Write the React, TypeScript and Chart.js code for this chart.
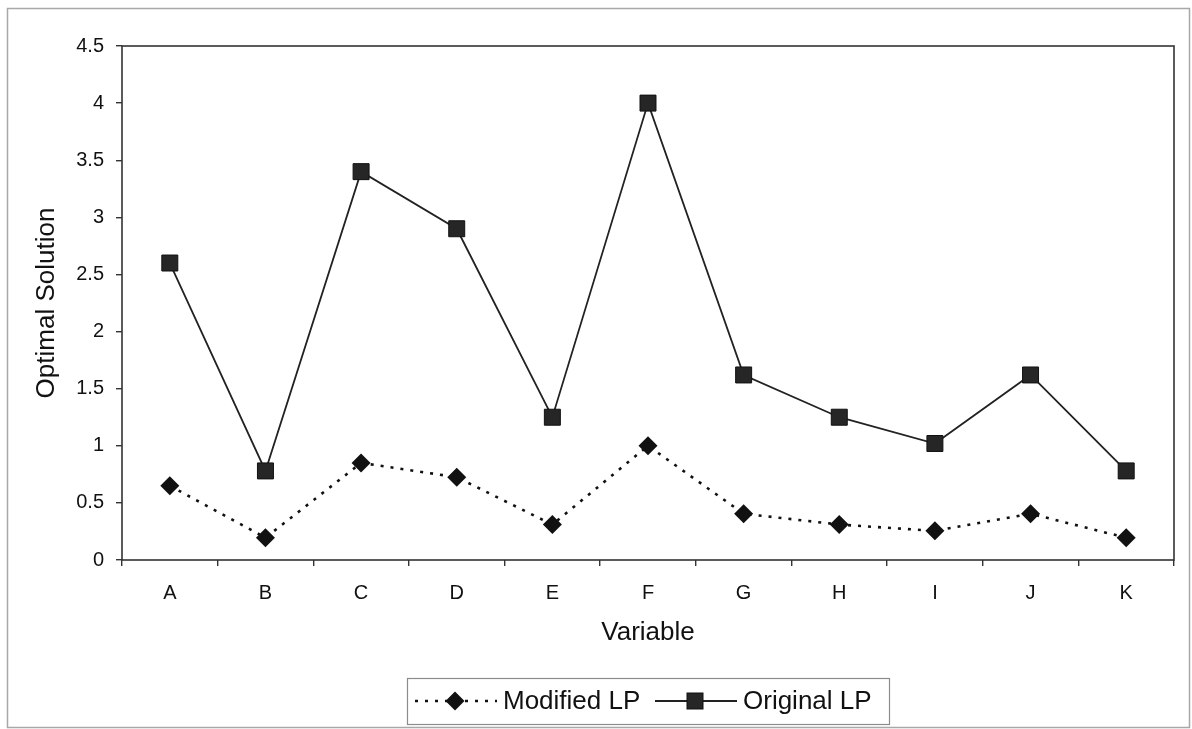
import { useEffect, useRef } from "react";
import { Chart, registerables } from "chart.js";

Chart.register(...registerables);

// Variables and the optimal value of each under the two formulations
const variables = ["A", "B", "C", "D", "E", "F", "G", "H", "I", "J", "K"];
const originalLP = [2.6, 0.78, 3.4, 2.9, 1.25, 4.0, 1.62, 1.25, 1.02, 1.62, 0.78];
const modifiedLP = [0.65, 0.195, 0.85, 0.725, 0.31, 1.0, 0.405, 0.31, 0.255, 0.405, 0.195];

const yMin = 0;
const yMax = 4.5;
const yStep = 0.5;

const seriesNames = ["Modified LP", "Original LP"];

const FONT = "'Liberation Sans', Arial, Helvetica, sans-serif";
const INK = "#111111";
const FRAME = "#333333";

const W = 1192;
const H = 729;

// Draws the light outer border and the full frame around the plot area
const framePlugin = {
  id: "frame",
  beforeDraw(chart: any) {
    const ctx = chart.ctx;
    ctx.save();
    ctx.fillStyle = "#ffffff";
    ctx.fillRect(0, 0, chart.width, chart.height);
    ctx.strokeStyle = "#a8a8a8";
    ctx.lineWidth = 1.5;
    ctx.strokeRect(7.5, 8.5, 1182, 719);
    ctx.restore();
  },
  beforeDatasetsDraw(chart: any) {
    const { ctx, chartArea } = chart;
    ctx.save();
    ctx.strokeStyle = FRAME;
    ctx.lineWidth = 1.6;
    ctx.strokeRect(
      chartArea.left,
      chartArea.top,
      chartArea.right - chartArea.left,
      chartArea.bottom - chartArea.top
    );
    ctx.restore();
  },
};

// Boxed legend with a line sample and marker per series
const legendPlugin = {
  id: "boxLegend",
  afterDraw(chart: any) {
    const ctx = chart.ctx;
    const boxX = 407.5;
    const boxY = 678.5;
    const boxW = 482;
    const boxH = 46;
    const cy = 701;
    ctx.save();
    ctx.strokeStyle = "#8c8c8c";
    ctx.lineWidth = 1.2;
    ctx.strokeRect(boxX, boxY, boxW, boxH);

    // dotted sample with diamond
    ctx.strokeStyle = INK;
    ctx.lineWidth = 2.6;
    ctx.setLineDash([3, 7]);
    ctx.beginPath();
    ctx.moveTo(415, cy);
    ctx.lineTo(497, cy);
    ctx.stroke();
    ctx.setLineDash([]);
    ctx.fillStyle = INK;
    ctx.beginPath();
    ctx.moveTo(455, cy - 9.5);
    ctx.lineTo(464.5, cy);
    ctx.lineTo(455, cy + 9.5);
    ctx.lineTo(445.5, cy);
    ctx.closePath();
    ctx.fill();

    // solid sample with square
    ctx.strokeStyle = "#222222";
    ctx.lineWidth = 1.8;
    ctx.beginPath();
    ctx.moveTo(655, cy);
    ctx.lineTo(737, cy);
    ctx.stroke();
    ctx.fillStyle = "#262626";
    ctx.fillRect(687, cy - 8, 16, 16);
    ctx.strokeStyle = "#111111";
    ctx.lineWidth = 1;
    ctx.strokeRect(687, cy - 8, 16, 16);

    ctx.fillStyle = INK;
    ctx.font = `26px ${FONT}`;
    ctx.textBaseline = "middle";
    ctx.textAlign = "left";
    ctx.fillText(seriesNames[0], 503, cy + 1);
    ctx.fillText(seriesNames[1], 743, cy + 1);
    ctx.restore();
  },
};

export default function App() {
  const canvasRef = useRef<HTMLCanvasElement | null>(null);

  useEffect(() => {
    if (!canvasRef.current) return;
    const chart = new Chart(canvasRef.current, {
      type: "line",
      data: {
        labels: variables,
        datasets: [
          {
            label: seriesNames[0],
            data: modifiedLP,
            borderColor: INK,
            backgroundColor: INK,
            borderWidth: 2.6,
            borderDash: [3, 7],
            pointStyle: "rectRot",
            pointRadius: 9.5,
            pointHoverRadius: 9.5,
            pointBackgroundColor: INK,
            pointBorderColor: INK,
            pointBorderWidth: 0,
            tension: 0,
          },
          {
            label: seriesNames[1],
            data: originalLP,
            borderColor: "#222222",
            backgroundColor: "#262626",
            borderWidth: 1.8,
            pointStyle: "rect",
            pointRadius: 11.3,
            pointHoverRadius: 11.3,
            pointBackgroundColor: "#262626",
            pointBorderColor: "#111111",
            pointBorderWidth: 1,
            tension: 0,
          },
        ],
      },
      options: {
        responsive: false,
        animation: false,
        devicePixelRatio: 1,
        layout: { padding: { top: 46, right: 18, bottom: 69, left: 0 } },
        plugins: {
          legend: { display: false },
          tooltip: { enabled: false },
          title: { display: false },
        },
        scales: {
          x: {
            type: "category",
            offset: true,
            grid: {
              offset: true,
              drawOnChartArea: false,
              drawTicks: true,
              tickLength: 6,
              color: FRAME,
              lineWidth: 1.4,
            },
            border: { display: false },
            ticks: {
              color: INK,
              font: { family: FONT, size: 20 },
              padding: 15,
              maxRotation: 0,
            },
            title: {
              display: true,
              text: "Variable",
              color: INK,
              font: { family: FONT, size: 26 },
              padding: { top: 0, bottom: 12 },
            },
            afterFit(scale: any) {
              scale.height = 100;
            },
          },
          y: {
            min: yMin,
            max: yMax,
            grid: {
              drawOnChartArea: false,
              drawTicks: true,
              tickLength: 6,
              color: FRAME,
              lineWidth: 1.4,
            },
            border: { display: false },
            ticks: {
              stepSize: yStep,
              color: INK,
              font: { family: FONT, size: 20 },
              padding: 12,
              callback: (v: any) => String(Number(v)),
            },
            title: {
              display: true,
              text: "Optimal Solution",
              color: INK,
              font: { family: FONT, size: 26 },
              padding: { top: 31, bottom: 0 },
            },
            afterFit(scale: any) {
              scale.width = 122;
            },
          },
        },
      },
      plugins: [framePlugin, legendPlugin],
    });
    return () => chart.destroy();
  }, []);

  return (
    <div
      style={{
        position: "fixed",
        left: 0,
        top: 0,
        width: W,
        height: H,
        background: "#ffffff",
      }}
    >
      <canvas ref={canvasRef} width={W} height={H} style={{ width: W, height: H }} />
    </div>
  );
}
